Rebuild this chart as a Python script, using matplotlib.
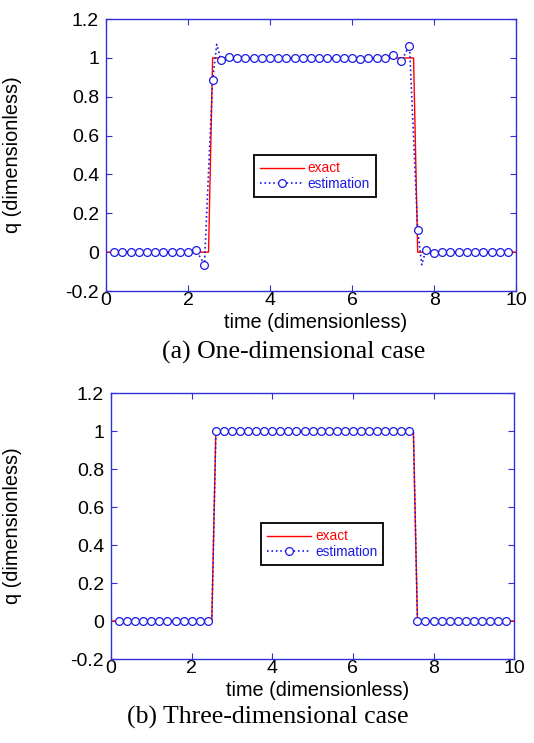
import numpy as np
import matplotlib.pyplot as plt

# exact solution (same in both cases)
t_exact = [0.0, 2.5, 2.6, 7.5, 7.6, 10.0]
q_exact = [0.0, 0.0, 1.0, 1.0, 0.0, 0.0]

# (a) one-dimensional case: estimation (2.7 and 7.7 are line-only points)
t_est_a = [0.2, 0.4, 0.6, 0.8, 1.0, 1.2, 1.4, 1.6, 1.8, 2.0,
           2.2, 2.4, 2.6, 2.7, 2.8, 3.0, 3.2, 3.4, 3.6, 3.8,
           4.0, 4.2, 4.4, 4.6, 4.8, 5.0, 5.2, 5.4, 5.6, 5.8,
           6.0, 6.2, 6.4, 6.6, 6.8, 7.0, 7.2, 7.4, 7.6, 7.7,
           7.8, 8.0, 8.2, 8.4, 8.6, 8.8, 9.0, 9.2, 9.4, 9.6, 9.8]
q_est_a = [0.0, 0.0, 0.0, 0.0, 0.0, 0.0, 0.0, 0.0, 0.0, 0.0,
           0.01, -0.064, 0.885, 1.07, 0.99, 1.005, 1.0, 0.998, 1.0, 1.0,
           1.0, 1.0, 1.0, 1.0, 1.0, 1.0, 1.0, 1.0, 1.0, 1.0,
           1.0, 0.993, 1.0, 1.0, 0.998, 1.016, 0.985, 1.064, 0.115, -0.065,
           0.01, -0.004, 0.0, 0.0, 0.0, 0.0, 0.0, 0.0, 0.0, 0.0, 0.0]
marks_a = [i for i, t in enumerate(t_est_a) if t not in (2.7, 7.7)]

# (b) three-dimensional case: estimation (2.5 and 7.5 are line-only points)
t_est_b = [0.2, 0.4, 0.6, 0.8, 1.0, 1.2, 1.4, 1.6, 1.8, 2.0,
           2.2, 2.4, 2.5, 2.6, 2.8, 3.0, 3.2, 3.4, 3.6, 3.8,
           4.0, 4.2, 4.4, 4.6, 4.8, 5.0, 5.2, 5.4, 5.6, 5.8,
           6.0, 6.2, 6.4, 6.6, 6.8, 7.0, 7.2, 7.4, 7.5, 7.6,
           7.8, 8.0, 8.2, 8.4, 8.6, 8.8, 9.0, 9.2, 9.4, 9.6, 9.8]
q_est_b = [0.0, 0.0, 0.0, 0.0, 0.0, 0.0, 0.0, 0.0, 0.0, 0.0,
           0.0, 0.0, 0.0, 1.0, 1.0, 1.0, 1.0, 1.0, 1.0, 1.0,
           1.0, 1.0, 1.0, 1.0, 1.0, 1.0, 1.0, 1.0, 1.0, 1.0,
           1.0, 1.0, 1.0, 1.0, 1.0, 1.0, 1.0, 1.0, 1.0, 0.0,
           0.0, 0.0, 0.0, 0.0, 0.0, 0.0, 0.0, 0.0, 0.0, 0.0, 0.0]
marks_b = [i for i, t in enumerate(t_est_b) if t not in (2.5, 7.5)]

x_ticks = [0, 2, 4, 6, 8, 10]
y_ticks = [-0.2, 0, 0.2, 0.4, 0.6, 0.8, 1, 1.2]
y_ticklabels = ['-0.2', '0', '0.2', '0.4', '0.6', '0.8', '1', '1.2']

captions = ['(a) One-dimensional case', '(b) Three-dimensional case']

plt.rcParams['font.family'] = ['Liberation Sans', 'DejaVu Sans']

blue = '#1a1ae6'
spine_blue = '#3030d8'
red = '#ff0000'

fig = plt.figure(figsize=(5.34, 7.43), dpi=100)
ax_a = fig.add_axes([0.1985, 0.6083, 0.768, 0.366])
ax_b = fig.add_axes([0.2079, 0.1130, 0.755, 0.358])


def draw(ax, t_est, q_est, marks, leg_xy, ylab_x, xlab_y):
    ax.plot(t_exact, q_exact, color=red, linewidth=1.0, label='exact')
    ax.plot(t_est, q_est, color=blue, linestyle=':', linewidth=1.2,
            marker='o', markersize=5.6, markerfacecolor='white',
            markeredgecolor=blue, markeredgewidth=0.9, markevery=marks,
            label='estimation')
    ax.set_xlim(0, 10)
    ax.set_ylim(-0.2, 1.2)
    ax.set_xticks(x_ticks)
    ax.set_yticks(y_ticks)
    ax.set_yticklabels(y_ticklabels)
    ax.tick_params(direction='in', length=4, color=spine_blue, labelsize=14,
                   top=True, right=True)
    ax.tick_params(axis='x', pad=1)
    ax.tick_params(axis='y', pad=5)
    for s in ax.spines.values():
        s.set_color(spine_blue)
        s.set_linewidth(1.0)
    ax.set_xlabel('time (dimensionless)', fontsize=14.3)
    ax.set_ylabel('q (dimensionless)', fontsize=14.3)
    ax.xaxis.set_label_coords(0.512, xlab_y)
    ax.yaxis.set_label_coords(ylab_x, 0.5)
    leg = ax.legend(loc='center', bbox_to_anchor=leg_xy, fontsize=9.8,
                    fancybox=False, edgecolor='black', framealpha=1,
                    handlelength=3.2, handletextpad=0.3, borderpad=0.45,
                    labelspacing=0.1)
    leg.get_frame().set_linewidth(1.3)
    for txt, c in zip(leg.get_texts(), [red, blue]):
        txt.set_color(c)


draw(ax_a, t_est_a, q_est_a, marks_a, (0.51, 0.423), -0.205, -0.081)
draw(ax_b, t_est_b, q_est_b, marks_b, (0.524, 0.432), -0.221, -0.083)

fig.text(294 / 534, 1 - 352 / 743, captions[0], ha='center', va='center',
         fontsize=18.5, family='Liberation Serif')
fig.text(268 / 534, 1 - 717 / 743, captions[1], ha='center', va='center',
         fontsize=18.5, family='Liberation Serif')

fig.savefig('out.png', dpi=100)
